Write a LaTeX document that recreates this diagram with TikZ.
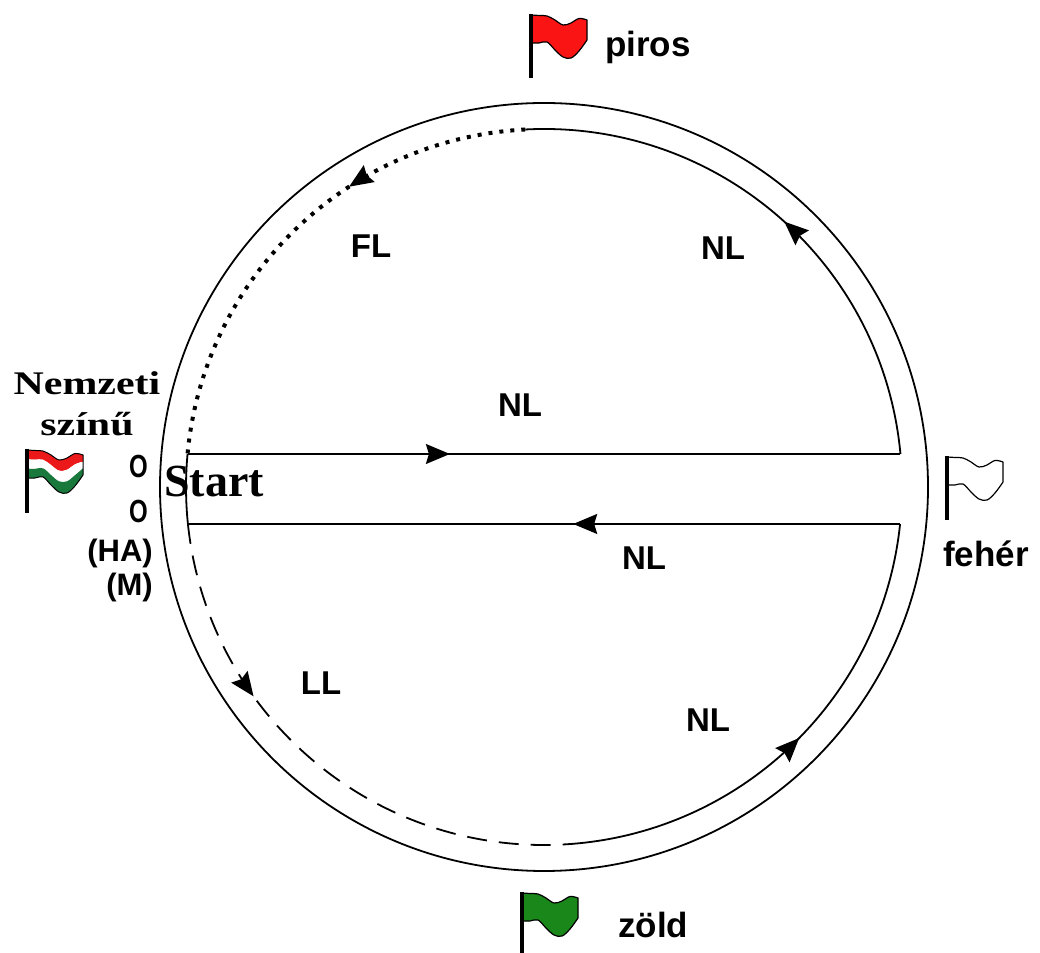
\documentclass[tikz,border=0pt]{standalone}
\usepackage{fontspec}
\newfontfamily\lsans{Liberation Sans}
\newfontfamily\lserif{Liberation Serif}
\usetikzlibrary{arrows.meta,decorations.markings}

\definecolor{flagred}{RGB}{250,20,20}
\definecolor{flaggreen}{RGB}{25,135,25}
\definecolor{hured}{RGB}{235,25,25}
\definecolor{hugreen}{RGB}{25,120,60}

\tikzset{
  track/.style={line width=1.8pt},
  straight/.style={line width=2.4pt},
  dottedtrack/.style={line width=4pt, dash pattern=on 4pt off 7pt},
  dashedtrack/.style={line width=1.8pt, dash pattern=on 20pt off 12pt},
  midarrow/.style={postaction={decorate},
    decoration={markings, mark=at position #1 with
      {\arrow{Stealth[length=24pt,width=20pt,inset=3pt,line width=1.5pt]}}}},
  lab/.style={font=\lsans\bfseries\fontsize{33}{33}\selectfont, inner sep=0pt, anchor=base},
  flaglab/.style={font=\lsans\bfseries\fontsize{35}{35}\selectfont, inner sep=0pt, anchor=base west},
  serlab/.style={font=\lserif\bfseries\fontsize{33}{33}\selectfont, inner sep=0pt, anchor=base},
  sidelab/.style={font=\lsans\bfseries\fontsize{31}{31}\selectfont, inner sep=0pt, anchor=base east},
  olab/.style={font=\lsans\bfseries\fontsize{32}{32}\selectfont, inner sep=0pt, anchor=base east},
  pics/flag/.style={code={
    \filldraw[fill=#1, draw=black, line width=1.2pt, line join=round]
      plot[smooth, tension=0.6] coordinates {(0,0) (8,-0.5) (16,-1) (24,-5) (32,-10) (40,-8) (48,-3.5) (56,-5)}
      -- plot[smooth, tension=0.6] coordinates {(56,-25) (48,-36) (40,-43) (32,-42) (24,-35) (16,-27) (8,-28) (0,-28)} -- cycle;
    \draw[line width=3.5pt] (0,1) -- (0,-63);
  }},
  pics/hunflag/.style={code={
    \fill[hured]
      plot[smooth, tension=0.6] coordinates {(0,0) (8,-0.5) (16,-1) (24,-5) (32,-10) (40,-8) (48,-3.5) (56,-5)}
      -- plot[smooth, tension=0.6] coordinates {(56,-11.7) (48,-14.3) (40,-19.7) (32,-20.7) (24,-15) (16,-9.7) (8,-9.7) (0,-9.3)} -- cycle;
    \fill[white]
      plot[smooth, tension=0.6] coordinates {(0,-9.3) (8,-9.7) (16,-9.7) (24,-15) (32,-20.7) (40,-19.7) (48,-14.3) (56,-11.7)}
      -- plot[smooth, tension=0.6] coordinates {(56,-18.3) (48,-25.2) (40,-31.3) (32,-31.3) (24,-25) (16,-18.3) (8,-18.8) (0,-18.7)} -- cycle;
    \fill[hugreen]
      plot[smooth, tension=0.6] coordinates {(0,-18.7) (8,-18.8) (16,-18.3) (24,-25) (32,-31.3) (40,-31.3) (48,-25.2) (56,-18.3)}
      -- plot[smooth, tension=0.6] coordinates {(56,-25) (48,-36) (40,-43) (32,-42) (24,-35) (16,-27) (8,-28) (0,-28)} -- cycle;
    \draw[line width=1pt, line join=round]
      plot[smooth, tension=0.6] coordinates {(0,0) (8,-0.5) (16,-1) (24,-5) (32,-10) (40,-8) (48,-3.5) (56,-5)}
      -- plot[smooth, tension=0.6] coordinates {(56,-25) (48,-36) (40,-43) (32,-42) (24,-35) (16,-27) (8,-28) (0,-28)} -- cycle;
    \draw[line width=3.5pt] (0,1) -- (0,-63);
  }}
}

\begin{document}
\begin{tikzpicture}[x=1pt,y=1pt]
\useasboundingbox[fill=white] (0,0) rectangle (1040,952);

% centre and key points of the track
\coordinate (C) at (544,465);
\coordinate (UL) at ([shift={(C)}]174.71:358);
\coordinate (UR) at ([shift={(C)}]5.29:358);
\coordinate (LL) at ([shift={(C)}]185.93:358);
\coordinate (LR) at ([shift={(C)}]354.07:358);
\coordinate (T) at ([shift={(C)}]93:358);
\coordinate (B) at ([shift={(C)}]275.3:358);

% outer boundary
\draw[track] (C) circle[radius=384];

% inner track
\draw[dottedtrack, midarrow=0.367] (T) arc[start angle=93, end angle=174.71, radius=358];
\draw[track] (UL) arc[start angle=174.71, end angle=185.93, radius=358];
\draw[dashedtrack, midarrow=0.334] (LL) arc[start angle=185.93, end angle=275.3, radius=358];
\draw[track, midarrow=0.51] (B) arc[start angle=275.3, end angle=354.07, radius=358];
\draw[track, midarrow=0.485] (UR) arc[start angle=5.29, end angle=93, radius=358];

% straights
\draw[straight, midarrow=0.368] (UL) -- (UR);
\draw[straight, midarrow=0.459] (LR) -- (LL);

% labels
\node[lab] (fl) at (371,694) {FL};
\node[lab] (nl1) at (723,692) {NL};
\node[lab] (nl2) at (520,535) {NL};
\node[lab] (nl3) at (644,382) {NL};
\node[lab] (nl4) at (708,220) {NL};
\node[lab] (ll) at (321,257) {LL};

% flags
\pic (redflag) at (531,937) {flag=flagred};
\pic (whiteflag) at (947,495) {flag=white};
\pic (greenflag) at (522,59) {flag=flaggreen};
\pic (hunflag) at (27,502) {hunflag};

\node[flaglab] (piros) at (605,895) {piros};
\node[flaglab] (feher) at (943,385) {fehér};
\node[flaglab] (zold) at (618,15) {zöld};

% left side
\node[serlab] (nemzeti) at (87,557) {\scalebox{1.27}[1]{Nemzeti}};
\node[serlab] (szinu) at (87,516) {\scalebox{1.27}[1]{színű}};
\node[font=\lserif\bfseries\fontsize{46}{46}\selectfont, inner sep=0pt, anchor=base west] (start) at (164,455) {Start};
\node[olab] (o1) at (148,474) {\scalebox{0.75}[1]{O}};
\node[olab] (o2) at (148,429) {\scalebox{0.75}[1]{O}};
\node[sidelab] (ha) at (153,390) {(HA)};
\node[sidelab] (m) at (153,356) {(M)};
\end{tikzpicture}
\end{document}
